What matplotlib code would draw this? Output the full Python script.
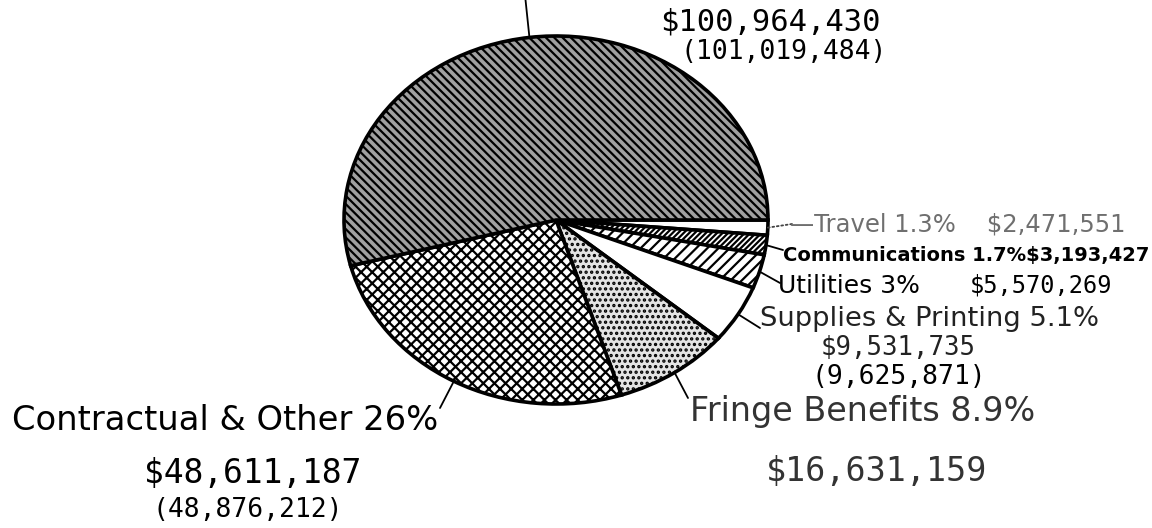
import matplotlib
matplotlib.use("Agg")
import matplotlib.pyplot as plt
import numpy as np

categories = ["Travel", "Communications", "Utilities", "Supplies & Printing",
              "Fringe Benefits", "Contractual & Other", "Personal Services"]
amounts = [2471551, 3193427, 5570269, 9531735, 16631159, 48611187, 100964430]
pct_labels = ["1.3%", "1.7%", "3%", "5.1%", "8.9%", "26%", "54%"]
prior_amounts = [None, None, None, 9625871, None, 48876212, 101019484]

hatches = ["", "//////", "///", "", "...", "xxx", "\\\\\\\\"]
faces = ["white", "white", "white", "white", "#e4e4e4", "white", "#a0a0a0"]

W, H = 1152, 528
plt.rcParams['hatch.linewidth'] = 1.6
fig = plt.figure(figsize=(W / 100, H / 100), dpi=100)
fig.patch.set_facecolor("white")

# ellipse box in pixels: center (556,220), rx 212, ry 184
cx, cy, rx, ry = 556, 220, 212, 184
ax = fig.add_axes([(cx - rx) / W, 1 - (cy + ry) / H, 2 * rx / W, 2 * ry / H])
wedges, _ = ax.pie(amounts, startangle=0, counterclock=False, radius=1,
                   wedgeprops=dict(linewidth=2.6, edgecolor="black"))
for w, h, fc in zip(wedges, hatches, faces):
    w.set_hatch(h)
    w.set_facecolor(fc)
ax.set_aspect("auto")
ax.set_xlim(-1, 1)
ax.set_ylim(-1, 1)
ax.axis("off")


def fp(x, y):
    return (x / W, 1 - y / H)


def mid_point(i, r=1.0):
    w = wedges[i]
    t = np.deg2rad((w.theta1 + w.theta2) / 2)
    return (r * np.cos(t), r * np.sin(t))


def money(v):
    return "${:,}".format(v)


def leader(i, end, ls="-", color="black", lw=1.3):
    ax.annotate("", xy=mid_point(i), xycoords="data",
                xytext=fp(*end), textcoords="figure fraction",
                arrowprops=dict(arrowstyle="-", color=color, lw=lw, linestyle=ls,
                                shrinkA=0, shrinkB=0),
                annotation_clip=False)


sans = "DejaVu Sans"
mono = "DejaVu Sans Mono"

# Personal services (label cut off at top)
leader(6, (525, -5))
fig.text(*fp(770, 22), money(amounts[6]), family=mono, fontsize=22,
         ha="center", va="center")
fig.text(*fp(784, 52), "({:,})".format(prior_amounts[6]), family=mono, fontsize=19,
         ha="center", va="center")

# Travel
leader(0, (792, 224), ls=(0, (1, 1.5)), color="#444444")
fig.text(*fp(790, 224), "\u2014" + categories[0] + " " + pct_labels[0] + "    " + money(amounts[0]),
         family=sans, fontsize=17.5, color="#6f6f6f", ha="left", va="center")

# Communications
leader(1, (783, 250))
fig.text(*fp(783, 256), categories[1] + " " + pct_labels[1] + money(amounts[1]),
         family=sans, fontsize=14, fontweight="bold", ha="left", va="center")

# Utilities
leader(2, (780, 283))
fig.text(*fp(778, 286), categories[2] + " " + pct_labels[2],
         family=sans, fontsize=18, ha="left", va="center")
fig.text(*fp(970, 286), money(amounts[2]),
         family=mono, fontsize=17, ha="left", va="center")

# Supplies & Printing
leader(3, (760, 328))
fig.text(*fp(760, 319), categories[3] + " " + pct_labels[3],
         family=sans, fontsize=19.7, color="#222222", ha="left", va="center")
fig.text(*fp(898, 348), money(amounts[3]), family=mono, fontsize=18.5,
         color="#222222", ha="center", va="center")
fig.text(*fp(899, 377), "({:,})".format(prior_amounts[3]), family=mono, fontsize=19,
         ha="center", va="center")

# Fringe Benefits
leader(4, (688, 398))
fig.text(*fp(690, 412), categories[4] + " " + pct_labels[4],
         family=sans, fontsize=24, color="#333333", ha="left", va="center")
fig.text(*fp(877, 472), money(amounts[4]), family=mono, fontsize=24,
         color="#333333", ha="center", va="center")

# Contractual & Other
leader(5, (440, 408))
fig.text(*fp(12, 420), categories[5] + " " + pct_labels[5],
         family=sans, fontsize=24.3, ha="left", va="center")
fig.text(*fp(253, 474), money(amounts[5]), family=mono, fontsize=23.7,
         ha="center", va="center")
fig.text(*fp(248, 510), "({:,})".format(prior_amounts[5]), family=mono, fontsize=19,
         ha="center", va="center")

fig.savefig("out.png", dpi=100, facecolor="white")
